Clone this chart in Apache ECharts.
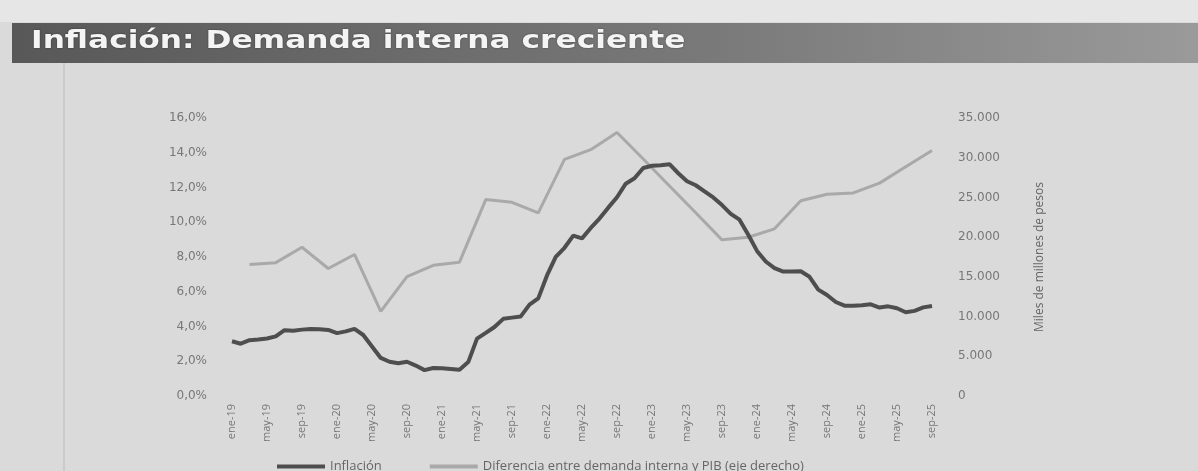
<!DOCTYPE html>
<html>
<head>
<meta charset="utf-8">
<script src="https://cdn.jsdelivr.net/npm/echarts@6/dist/echarts.min.js"></script>
<style>
    html, body { margin: 0; padding: 0; background: #dadada; }
    #grafico { width: 1198px; height: 471px; }
</style>
</head>
<body>
<div id="grafico"></div>
<script>
// meses del eje (ene-19 ... sep-25)
const meses = ['ene','feb','mar','abr','may','jun','jul','ago','sep','oct','nov','dic'];
const anios = ['19','20','21','22','23','24','25'];
const categorias = [];
anios.forEach(a => meses.forEach((m, i) => {
    if (a === '25' && i > 8) return;
    categorias.push(m + '-' + a);
}));

// inflación anual (%), mensual
const inflacion = [
    3.15, 3.01, 3.21, 3.25, 3.31, 3.43, 3.79, 3.75, 3.82, 3.86, 3.84, 3.80,
    3.62, 3.72, 3.86, 3.51, 2.85, 2.19, 1.97, 1.88, 1.97, 1.75, 1.49, 1.61,
    1.60, 1.56, 1.51, 1.95, 3.30, 3.63, 3.97, 4.44, 4.51, 4.58, 5.26, 5.62,
    6.94, 8.01, 8.53, 9.23, 9.07, 9.67, 10.21, 10.84, 11.44, 12.22, 12.53, 13.12,
    13.25, 13.28, 13.34, 12.82, 12.36, 12.13, 11.78, 11.43, 10.99, 10.48, 10.15, 9.28,
    8.35, 7.74, 7.36, 7.16, 7.16, 7.18, 6.86, 6.12, 5.81, 5.41, 5.20, 5.20,
    5.22, 5.28, 5.09, 5.16, 5.05, 4.82, 4.90, 5.10, 5.18
];

// diferencia demanda interna - PIB (miles de millones), trimestral: mar-19 ... sep-25
const diferenciaTrim = [
    16570, 16790, 18730, 16050,
    17820, 10660, 15030, 16460,
    16850, 24730, 24380, 23050,
    29790, 31010, 33180, 29840,
    26440, 23070, 19660, 19980,
    21050, 24590, 25390, 25570,
    26800, 28860, 30920
];

// se ubica cada trimestre en su mes de cierre
const diferencia = categorias.map(() => null);
diferenciaTrim.forEach((v, k) => { diferencia[2 + 3 * k] = v; });

const ejeLeft = [0, 16, 2];
const ejeRight = [0, 35000, 5000];

let myChart = echarts.init(document.getElementById('grafico'));
myChart.setOption({
    backgroundColor: '#dadada',
    animation: false,
    graphic: [
        { type: 'rect', left: 0, top: 0, shape: { width: 1198, height: 22 }, style: { fill: '#e6e6e6' } },
        {
            type: 'rect', left: 12, top: 23, shape: { width: 1186, height: 40 },
            style: {
                fill: new echarts.graphic.LinearGradient(0, 0, 1, 0, [
                    { offset: 0, color: '#585858' },
                    { offset: 0.6, color: '#7a7a7a' },
                    { offset: 1, color: '#9a9a9a' }
                ])
            }
        },
        {
            type: 'text', x: 31, y: 29, scaleX: 1.25,
            style: {
                text: 'Inflación: Demanda interna creciente',
                fill: '#f4f4f4',
                font: 'bold 25px "DejaVu Sans"',
                textShadowColor: 'rgba(0,0,0,0.45)',
                textShadowBlur: 2
            }
        },
        { type: 'rect', left: 63, top: 63, shape: { width: 2, height: 408 }, style: { fill: '#cbcbcb' } }
    ],
    grid: { left: 232, right: 266, top: 118, bottom: 75 },
    legend: {
        left: 272,
        top: 455,
        itemWidth: 48,
        itemHeight: 4,
        itemGap: 48,
        textStyle: { color: '#666', fontFamily: 'Open Sans', fontSize: 13 },
        data: [
            { name: 'Inflación', icon: 'rect' },
            { name: 'Diferencia entre demanda interna y PIB (eje derecho)', icon: 'rect' }
        ]
    },
    xAxis: {
        type: 'category',
        data: categorias,
        boundaryGap: false,
        axisLine: { show: false },
        axisTick: { show: false },
        axisLabel: {
            interval: 3,
            rotate: 90,
            margin: 8,
            color: '#777',
            fontFamily: 'Open Sans',
            fontSize: 11
        }
    },
    yAxis: [{
        type: 'value',
        min: ejeLeft[0], max: ejeLeft[1], interval: ejeLeft[2],
        splitLine: { show: false },
        axisLine: { show: false },
        axisTick: { show: false },
        axisLabel: {
            margin: 25,
            color: '#777',
            fontFamily: 'DejaVu Sans',
            fontSize: 12,
            formatter: v => v.toFixed(1).replace('.', ',') + '%'
        }
    }, {
        type: 'value',
        position: 'right',
        min: ejeRight[0], max: ejeRight[1], interval: ejeRight[2],
        name: 'Miles de millones de pesos',
        nameLocation: 'middle',
        nameGap: 102,
        nameTextStyle: { color: '#666', fontFamily: 'Open Sans', fontSize: 12 },
        splitLine: { show: false },
        axisLine: { show: false },
        axisTick: { show: false },
        axisLabel: {
            margin: 26,
            color: '#777',
            fontFamily: 'DejaVu Sans',
            fontSize: 12,
            formatter: v => v === 0 ? '0' : String(v).replace(/\B(?=(\d{3})+(?!\d))/g, '.')
        }
    }],
    series: [{
        name: 'Diferencia entre demanda interna y PIB (eje derecho)',
        type: 'line',
        yAxisIndex: 1,
        data: diferencia,
        connectNulls: true,
        symbol: 'none',
        lineStyle: { color: '#a9a9a9', width: 3 },
        itemStyle: { color: '#a9a9a9' }
    }, {
        name: 'Inflación',
        type: 'line',
        yAxisIndex: 0,
        data: inflacion,
        symbol: 'none',
        lineStyle: { color: '#4e4e4e', width: 4 },
        itemStyle: { color: '#4e4e4e' }
    }]
});
</script>
</body>
</html>
